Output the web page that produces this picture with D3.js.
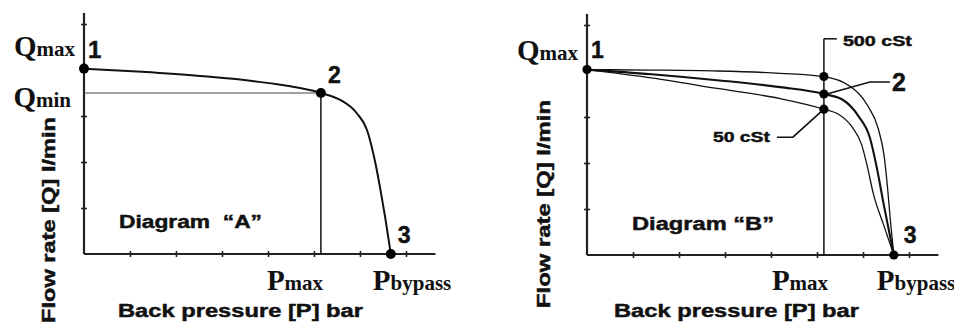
<!DOCTYPE html>
<html>
<head>
<meta charset="utf-8">
<script src="https://cdn.jsdelivr.net/npm/d3@7"></script>
<style>
  html, body { margin: 0; padding: 0; background: #fff; }
  svg { display: block; }
  text { white-space: pre; }
  .sans { font-family: "Liberation Sans", Arial, sans-serif; font-weight: bold; fill: #111; stroke: #111; stroke-width: 0.45; }
  .serif { font-family: "Liberation Serif", "Times New Roman", serif; fill: #111; }
</style>
</head>
<body>
<svg id="chart" width="954" height="325"></svg>
<script>
// ---------------- data ----------------
const pressureTicks = [1, 2, 3, 4, 5, 6, 7];
const flowTicks = [1, 2, 3, 4, 5];
const Pmax = 5.15;
const Pbypass = 6.67;
const Qmax = 4.03;
const Qmin = 3.5;

// Diagram A: single characteristic curve
const curveA_P = [0, 1.26, 2.52, 3.98, 5.15, 5.57, 5.93, 6.15, 6.25, 6.34, 6.44, 6.55, 6.67];
const curveA_Q = [4.03, 3.96, 3.87, 3.72, 3.5, 3.35, 3.06, 2.7, 2.35, 1.95, 1.42, 0.78, 0];

// Diagram B: three viscosities
const curve500_P = [0, 1.4, 2.83, 4.2, 5.15, 5.7, 6.1, 6.33, 6.46, 6.53, 6.6, 6.67];
const curve500_Q = [4.03, 4.02, 4.0, 3.95, 3.88, 3.68, 3.25, 2.75, 2.15, 1.5, 0.7, 0];
const curveMid_P = [0, 1.4, 2.83, 4.2, 5.15, 5.55, 5.9, 6.15, 6.3, 6.45, 6.58, 6.67];
const curveMid_Q = [4.03, 3.93, 3.8, 3.65, 3.5, 3.38, 3.02, 2.55, 1.9, 1.1, 0.45, 0];
const curve50_P = [0, 1.4, 2.83, 4.2, 5.15, 5.45, 5.75, 5.97, 6.1, 6.22, 6.45, 6.67];
const curve50_Q = [4.03, 3.85, 3.62, 3.4, 3.17, 3.07, 2.8, 2.4, 1.9, 1.35, 0.65, 0];

const pointLabels = ["1", "2", "3"];
const diagramTitles = ["Diagram  \u201CA\u201D", "Diagram \u201CB\u201D"];
const xAxisTitle = "Back pressure [P] bar";
const yAxisTitle = "Flow rate [Q] l/min";
const viscLabels = ["500 cSt", "50 cSt"];

// ---------------- drawing ----------------
const svg = d3.select("#chart");
const unit = 46;
const xMax = 7.64, yMax = 5.24;

function makePanel(ox, oy) {
  const g = svg.append("g").attr("transform", `translate(${ox},${oy})`);
  const x = d3.scaleLinear().domain([0, 1]).range([0, unit]);
  const y = d3.scaleLinear().domain([0, 1]).range([0, -unit]);
  const xa = g.append("g").call(d3.axisBottom(x).tickValues(pressureTicks).tickSizeOuter(0).tickFormat(""));
  const ya = g.append("g").call(d3.axisLeft(y).tickValues(flowTicks).tickSizeOuter(0).tickFormat(""));
  xa.select(".domain").attr("d", `M0,0H${x(xMax)}`);
  ya.select(".domain").attr("d", `M0,0V${y(yMax)}`);
  xa.selectAll(".tick line").attr("y1", -3).attr("y2", 3);
  ya.selectAll(".tick line").attr("x1", -3).attr("x2", 3);
  g.selectAll(".domain").attr("stroke", "#222").attr("stroke-width", 2.2);
  g.selectAll(".tick line").attr("stroke", "#222").attr("stroke-width", 1.6);
  return { g, x, y };
}

function line(x, y) {
  return d3.line().x(d => x(d[0])).y(d => y(d[1])).curve(d3.curveMonotoneX);
}
function zip(a, b) { return a.map((v, i) => [v, b[i]]); }

function qLabel(g, xPos, yPos, sub) {
  const t = g.append("text").attr("class", "serif").attr("x", xPos).attr("y", yPos).attr("text-anchor", "end");
  t.append("tspan").attr("font-size", 29).attr("font-weight", "bold").text("Q");
  t.append("tspan").attr("font-size", 21).attr("font-weight", "bold").text(sub);
}
function pLabel(g, xPos, yPos, sub) {
  const t = g.append("text").attr("class", "serif").attr("x", xPos).attr("y", yPos);
  t.append("tspan").attr("font-size", 29).attr("font-weight", "bold").text("P");
  t.append("tspan").attr("font-size", 21).attr("font-weight", "bold").text(sub);
}
function num(g, xPos, yPos, s, size) {
  g.append("text").attr("class", "sans").attr("x", xPos).attr("y", yPos)
    .attr("font-size", size).text(s);
}

// ---------- Panel A ----------
(function () {
  const { g, x, y } = makePanel(84, 254);
  g.append("line").attr("x1", x(0)).attr("x2", x(Pmax)).attr("y1", y(Qmin)).attr("y2", y(Qmin))
    .attr("stroke", "#444").attr("stroke-width", 1.2);
  g.append("line").attr("x1", x(Pmax)).attr("x2", x(Pmax)).attr("y1", y(Qmin)).attr("y2", y(0))
    .attr("stroke", "#111").attr("stroke-width", 1.5);
  g.append("path").datum(zip(curveA_P, curveA_Q)).attr("d", line(x, y))
    .attr("fill", "none").attr("stroke", "#111").attr("stroke-width", 2);
  const pts = [[0, Qmax], [Pmax, Qmin], [Pbypass, 0]];
  g.selectAll("circle").data(pts).join("circle")
    .attr("cx", d => x(d[0])).attr("cy", d => y(d[1])).attr("r", 5).attr("fill", "#000");
  num(g, x(0) + 4, y(Qmax) - 11, pointLabels[0], 24);
  num(g, x(Pmax) + 7, y(Qmin) - 10, pointLabels[1], 23);
  num(g, x(Pbypass) + 7, y(0) - 11, pointLabels[2], 23);
  qLabel(g, x(0) - 9, y(Qmax) - 13, "max");
  qLabel(g, x(0) - 13, y(Qmin) + 14, "min");
  pLabel(g, x(Pmax) - 54, 36, "max");
  pLabel(g, x(Pbypass) - 18, 36, "bypass");
  g.append("text").attr("class", "sans").attr("x", 35).attr("y", -26).attr("font-size", 18)
    .attr("textLength", 143).attr("lengthAdjust", "spacingAndGlyphs").text(diagramTitles[0]);
  g.append("text").attr("class", "sans").attr("x", 34).attr("y", 63).attr("font-size", 18)
    .attr("textLength", 245).attr("lengthAdjust", "spacingAndGlyphs").text(xAxisTitle);
  g.append("text").attr("class", "sans").attr("transform", "translate(-29,-34) rotate(-90)")
    .attr("text-anchor", "middle").attr("font-size", 18)
    .attr("textLength", 206).attr("lengthAdjust", "spacingAndGlyphs").text(yAxisTitle);
})();

// ---------- Panel B ----------
(function () {
  const { g, x, y } = makePanel(587, 255);
  const topY = 4.7;
  g.append("line").attr("x1", x(Pmax)).attr("x2", x(Pmax)).attr("y1", y(topY)).attr("y2", y(0))
    .attr("stroke", "#111").attr("stroke-width", 1.5);
  g.append("line").attr("x1", x(Pmax)).attr("x2", x(Pmax) + 13).attr("y1", y(topY)).attr("y2", y(topY))
    .attr("stroke", "#111").attr("stroke-width", 1.5);
  const curves = [
    { p: curve500_P, q: curve500_Q, w: 1.3 },
    { p: curveMid_P, q: curveMid_Q, w: 2.1 },
    { p: curve50_P, q: curve50_Q, w: 1.3 }
  ];
  curves.forEach(c => {
    g.append("path").datum(zip(c.p, c.q)).attr("d", line(x, y))
      .attr("fill", "none").attr("stroke", "#111").attr("stroke-width", c.w);
  });
  const pts = [[0, Qmax], [Pmax, curve500_Q[4]], [Pmax, curveMid_Q[4]], [Pmax, curve50_Q[4]], [Pbypass, 0]];
  g.selectAll("circle").data(pts).join("circle")
    .attr("cx", d => x(d[0])).attr("cy", d => y(d[1])).attr("r", 4.6).attr("fill", "#000");
  const midY = y(curveMid_Q[4]);
  g.append("path").attr("d", `M${x(Pmax) + 3},${midY}L${x(Pmax) + 46},${midY - 12}H${x(Pmax) + 66}`)
    .attr("fill", "none").attr("stroke", "#111").attr("stroke-width", 1.6);
  const lowY = y(curve50_Q[4]);
  g.append("path").attr("d", `M${x(Pmax)},${lowY}L${x(Pmax) - 31},${lowY + 28}H${x(Pmax) - 47}`)
    .attr("fill", "none").attr("stroke", "#111").attr("stroke-width", 1.6);
  g.append("text").attr("class", "sans").attr("x", x(Pmax) + 19).attr("y", y(topY) + 7).attr("font-size", 15)
    .attr("textLength", 69).attr("lengthAdjust", "spacingAndGlyphs").text(viscLabels[0]);
  g.append("text").attr("class", "sans").attr("x", x(Pmax) - 54).attr("y", lowY + 33).attr("font-size", 15)
    .attr("text-anchor", "end")
    .attr("textLength", 57).attr("lengthAdjust", "spacingAndGlyphs").text(viscLabels[1]);
  num(g, x(0) + 4, y(Qmax) - 12, pointLabels[0], 23);
  num(g, x(Pmax) + 68, midY - 3, pointLabels[1], 25);
  num(g, x(Pbypass) + 10, y(0) - 12, pointLabels[2], 23);
  qLabel(g, x(0) - 9, y(Qmax) - 10, "max");
  pLabel(g, x(Pmax) - 52, 35, "max");
  pLabel(g, x(Pbypass) - 17, 35, "bypass");
  g.append("text").attr("class", "sans").attr("x", 45).attr("y", -25).attr("font-size", 18)
    .attr("textLength", 142).attr("lengthAdjust", "spacingAndGlyphs").text(diagramTitles[1]);
  g.append("text").attr("class", "sans").attr("x", 27).attr("y", 62).attr("font-size", 18)
    .attr("textLength", 245).attr("lengthAdjust", "spacingAndGlyphs").text(xAxisTitle);
  g.append("text").attr("class", "sans").attr("transform", "translate(-37,-51) rotate(-90)")
    .attr("text-anchor", "middle").attr("font-size", 18)
    .attr("textLength", 208).attr("lengthAdjust", "spacingAndGlyphs").text(yAxisTitle);
})();
</script>
</body>
</html>
